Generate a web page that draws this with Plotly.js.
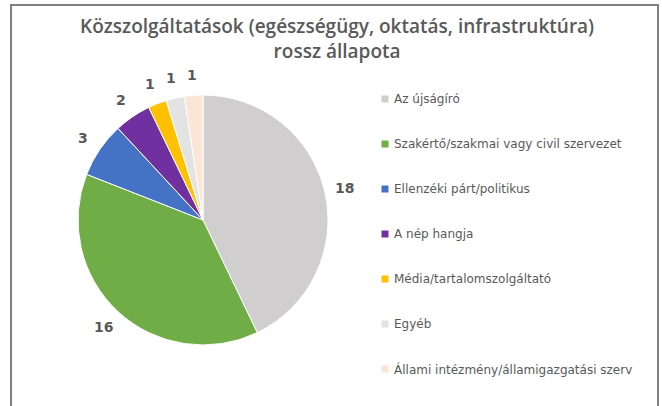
<!DOCTYPE html>
<html>
<head>
<meta charset="utf-8">
<script src="https://cdn.plot.ly/plotly-3.0.1.min.js"></script>
<style>html,body{margin:0;padding:0;background:#fff;}#chart{width:662px;height:406px;}</style>
</head>
<body>
<div id="chart"></div>
<script>
const titleText = "Közszolgáltatások (egészségügy, oktatás, infrastruktúra)<br>rossz állapota";
const labels = [
  "Az újságíró",
  "Szakértő/szakmai vagy civil szervezet",
  "Ellenzéki párt/politikus",
  "A nép hangja",
  "Média/tartalomszolgáltató",
  "Egyéb",
  "Állami intézmény/államigazgatási szerv"
];
const values = [18, 16, 3, 2, 1, 1, 1];
const colors = ["#D0CECE", "#70AD47", "#4472C4", "#7030A0", "#FFC000", "#E3E3E3", "#FBE5D6"];

const W = 662, H = 406;
const cx = 203, cy = 220, R = 125;
const dom = {
  x: [(cx - R) / W, (cx + R) / W],
  y: [(H - cy - R) / H, (H - cy + R) / H]
};

const total = values.reduce((a, b) => a + b, 0);
const annotations = [];
const shapes = [];
let cum = 0;
values.forEach((v, i) => {
  const mid = (cum + v / 2) / total * 2 * Math.PI;
  cum += v;
  const r = R * 1.165;
  const px = cx + r * Math.sin(mid);
  const py = cy - r * Math.cos(mid);
  annotations.push({
    x: px / W, y: 1 - py / H, xref: "paper", yref: "paper",
    text: String(v), showarrow: false, xanchor: "center", yanchor: "middle",
    font: {family: "DejaVu Sans", size: 14, color: "#595959", weight: "bold"}
  });
});

// legend
const legX = 385, legY0 = 99, legStep = 45, sq = 7;
labels.forEach((lab, i) => {
  const y = legY0 + i * legStep;
  shapes.push({
    type: "rect", xref: "paper", yref: "paper",
    x0: (legX - sq / 2) / W, x1: (legX + sq / 2) / W,
    y0: 1 - (y + sq / 2) / H, y1: 1 - (y - sq / 2) / H,
    fillcolor: colors[i], line: {width: 0}
  });
  annotations.push({
    x: 392 / W, y: 1 - y / H, xref: "paper", yref: "paper",
    text: lab, showarrow: false, xanchor: "left", yanchor: "middle",
    font: {family: "DejaVu Sans", size: 12, color: "#595959"}
  });
});

// title as two centered lines
annotations.push({
  x: 337 / W, y: 1 - 26 / H, xref: "paper", yref: "paper",
  text: titleText, showarrow: false, xanchor: "center", yanchor: "middle",
  yshift: -12,
  font: {family: "Open Sans", size: 19, color: "#595959", weight: 600}
});

// chart border (left, top, right)
shapes.push({
  type: "path", xref: "paper", yref: "paper",
  path: `M ${11 / W} 0 L ${11 / W} ${1 - 5 / H} L ${658 / W} ${1 - 5 / H} L ${658 / W} 0`,
  line: {color: "#7F7F7F", width: 2}
});

const trace = {
  type: "pie",
  labels: labels,
  values: values,
  sort: false,
  direction: "clockwise",
  rotation: 0,
  textinfo: "none",
  hoverinfo: "label+value",
  marker: {colors: colors, line: {color: "#FFFFFF", width: 1}},
  domain: dom,
  showlegend: false
};

const layout = {
  width: W, height: H,
  margin: {l: 0, r: 0, t: 0, b: 0},
  paper_bgcolor: "#FFFFFF",
  showlegend: false,
  annotations: annotations,
  shapes: shapes
};

Plotly.newPlot("chart", [trace], layout, {staticPlot: true, displayModeBar: false});
</script>
</body>
</html>
